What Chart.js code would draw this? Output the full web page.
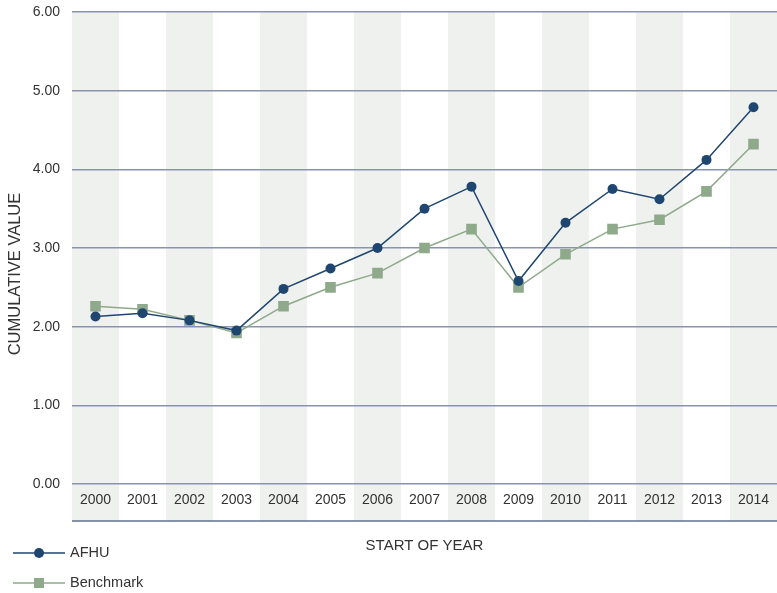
<!DOCTYPE html>
<html>
<head>
<meta charset="utf-8">
<script src="https://cdn.jsdelivr.net/npm/chart.js@4/dist/chart.umd.min.js"></script>
<style>
html,body{margin:0;padding:0;background:#fff;}
#wrap{width:777px;height:593px;position:relative;}
</style>
</head>
<body>
<div id="wrap"><canvas id="c" width="777" height="593"></canvas></div>
<script>
const years = ['2000','2001','2002','2003','2004','2005','2006','2007','2008','2009','2010','2011','2012','2013','2014'];
const afhu = [2.13, 2.17, 2.08, 1.95, 2.48, 2.74, 3.00, 3.50, 3.78, 2.58, 3.32, 3.75, 3.62, 4.12, 4.79];
const benchmark = [2.26, 2.22, 2.08, 1.92, 2.26, 2.50, 2.68, 3.00, 3.24, 2.50, 2.92, 3.24, 3.36, 3.72, 4.32];
const yTicks = [0, 1, 2, 3, 4, 5, 6];
const seriesNames = ['AFHU', 'Benchmark'];
const xTitle = 'START OF YEAR';
const yTitle = 'CUMULATIVE VALUE';

const FONT = '"Liberation Sans", Arial, sans-serif';
const TEXT = '#333333';
const GRID = '#8a93ad';
const BLUE = '#1f4670';
const GREEN = '#8fa98b';
const BAND = '#eff1ee';
const BOTTOM_LINE = 521;

const bandPlugin = {
  id: 'bands',
  beforeDraw(chart) {
    const {ctx, chartArea, scales} = chart;
    const x = scales.x;
    const step = (chartArea.right - chartArea.left) / years.length;
    ctx.save();
    ctx.fillStyle = BAND;
    years.forEach((y, i) => {
      if (i % 2 === 0) {
        const cx = x.getPixelForValue(i);
        ctx.fillRect(cx - step / 2, chartArea.top, step, BOTTOM_LINE - chartArea.top);
      }
    });
    ctx.restore();
  },
  afterDraw(chart) {
    const {ctx, chartArea} = chart;
    ctx.save();
    ctx.strokeStyle = '#5f7190';
    ctx.lineWidth = 1.5;
    ctx.beginPath();
    ctx.moveTo(chartArea.left, BOTTOM_LINE);
    ctx.lineTo(chartArea.right, BOTTOM_LINE);
    ctx.stroke();
    ctx.fillStyle = TEXT;
    ctx.font = '16.5px ' + FONT;
    ctx.textAlign = 'center';
    ctx.textBaseline = 'middle';
    ctx.translate(15, 274);
    ctx.rotate(-Math.PI / 2);
    ctx.fillText(yTitle, 0, 0);
    ctx.restore();
    ctx.save();
    const items = [
      {name: seriesNames[0], color: BLUE, y: 553, style: 'circle'},
      {name: seriesNames[1], color: GREEN, y: 583, style: 'rect'}
    ];
    items.forEach(it => {
      ctx.strokeStyle = it.color;
      ctx.lineWidth = 1.3;
      ctx.beginPath();
      ctx.moveTo(13, it.y);
      ctx.lineTo(65, it.y);
      ctx.stroke();
      ctx.fillStyle = it.color;
      if (it.style === 'circle') {
        ctx.beginPath();
        ctx.arc(39, it.y, 5, 0, Math.PI * 2);
        ctx.fill();
      } else {
        ctx.fillRect(34, it.y - 5, 10, 10);
      }
      ctx.fillStyle = TEXT;
      ctx.font = '14.5px ' + FONT;
      ctx.textAlign = 'left';
      ctx.textBaseline = 'middle';
      ctx.fillText(it.name, 70, it.y);
    });
    ctx.restore();
  }
};

new Chart(document.getElementById('c'), {
  type: 'line',
  data: {
    labels: years,
    datasets: [
      {
        label: seriesNames[0], data: afhu,
        borderColor: BLUE, backgroundColor: BLUE, borderWidth: 1.5,
        pointStyle: 'circle', pointRadius: 5, pointHoverRadius: 5,
        pointBorderWidth: 0, tension: 0
      },
      {
        label: seriesNames[1], data: benchmark,
        borderColor: GREEN, backgroundColor: GREEN, borderWidth: 1.5,
        pointStyle: 'rect', pointRadius: 7.5, pointHoverRadius: 7.5,
        pointBorderWidth: 0, tension: 0
      }
    ]
  },
  options: {
    responsive: false,
    animation: false,
    devicePixelRatio: 1,
    layout: {autoPadding: false, padding: {top: 12, right: 0, left: 0, bottom: 0}},
    plugins: {legend: {display: false}, tooltip: {enabled: false}},
    scales: {
      x: {
        offset: true,
        grid: {display: false, drawTicks: false},
        border: {display: false},
        ticks: {color: TEXT, font: {family: FONT, size: 14}, padding: 8, maxRotation: 0, autoSkip: false},
        title: {display: true, text: xTitle, color: TEXT, font: {family: FONT, size: 15}, padding: {top: 0, bottom: 38}},
        afterFit(s) { s.height = 109; s.paddingLeft = 0; s.paddingRight = 0; }
      },
      y: {
        min: 0, max: 6,
        afterBuildTicks(s) { s.ticks = yTicks.map(v => ({value: v})); },
        grid: {color: GRID, lineWidth: 1.5, drawTicks: false},
        border: {display: false},
        ticks: {color: TEXT, font: {family: FONT, size: 14}, padding: 12, callback: v => Number(v).toFixed(2)},
        afterFit(s) { s.width = 72; s.paddingTop = 0; s.paddingBottom = 0; }
      }
    }
  },
  plugins: [bandPlugin]
});
</script>
</body>
</html>
